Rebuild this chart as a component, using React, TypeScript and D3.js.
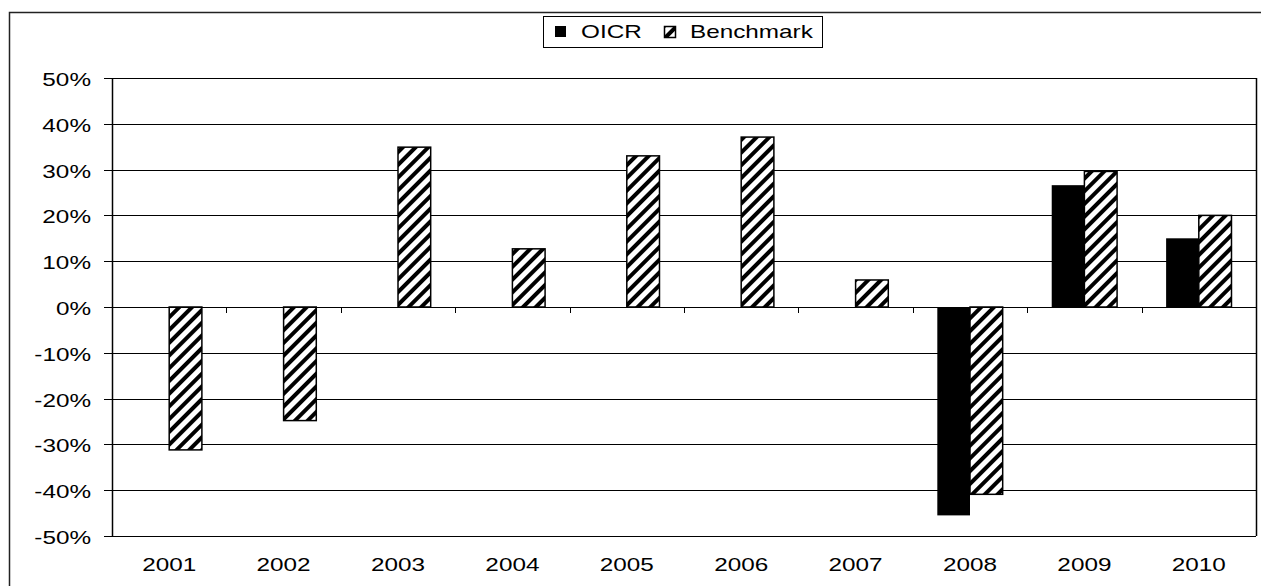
import React from "react";
import * as d3 from "d3";

const years = ["2001", "2002", "2003", "2004", "2005", "2006", "2007", "2008", "2009", "2010"];
const oicr: (number | null)[] = [null, null, null, null, null, null, null, -0.455, 0.266, 0.150];
const benchmark: number[] = [-0.312, -0.248, 0.349, 0.127, 0.330, 0.371, 0.059, -0.409, 0.296, 0.200];
const seriesNames = ["OICR", "Benchmark"];
const yTicks = [0.5, 0.4, 0.3, 0.2, 0.1, 0, -0.1, -0.2, -0.3, -0.4, -0.5];

const W = 1261;
const H = 586;
const plot = { left: 112, right: 1256, top: 78, bottom: 536 };
const SX = 1.35;
const FONT = "'Liberation Sans', Arial, sans-serif";

function SText(props: { x: number; y: number; anchor?: string; children: React.ReactNode }) {
  return (
    <text
      transform={`translate(${props.x},${props.y}) scale(${SX},1)`}
      textAnchor={props.anchor || "start"}
      fontFamily={FONT}
      fontSize={18}
      fill="#000"
    >
      {props.children}
    </text>
  );
}

export default function App() {
  const x0 = d3.scaleBand<string>().domain(years).range([plot.left, plot.right]).paddingInner(0).paddingOuter(0);
  const bw = x0.bandwidth();
  const x1 = d3
    .scaleBand<string>()
    .domain(seriesNames)
    .range([(bw * 0.75) / 3.5, (bw * 2.75) / 3.5])
    .padding(0);
  const barW = x1.bandwidth();
  const y = d3.scaleLinear().domain([-0.5, 0.5]).range([plot.bottom, plot.top]);
  const fmt = (v: number) => d3.format(".0%")(v).replace("\u2212", "-");
  const y0 = y(0);

  return (
    <svg
      width={W}
      height={H}
      style={{ position: "absolute", left: 0, top: 0, background: "#fff" }}
    >
      <defs>
        <pattern
          id="hatch"
          patternUnits="userSpaceOnUse"
          width={9}
          height={9}
          patternTransform="rotate(45)"
        >
          <rect x={0} y={0} width={9} height={9} fill="#fff" />
          <rect x={0} y={0} width={4} height={9} fill="#000" />
        </pattern>
      </defs>
      <rect x={0} y={0} width={W} height={H} fill="#fff" />
      {/* outer chart border */}
      <rect x={9.5} y={12.5} width={W + 20} height={H + 20} fill="none" stroke="#222" strokeWidth={1.5} />

      {/* gridlines */}
      {yTicks.map((t) => (
        <line
          key={"g" + t}
          x1={plot.left}
          x2={plot.right}
          y1={Math.round(y(t)) + 0.5}
          y2={Math.round(y(t)) + 0.5}
          stroke="#000"
          strokeWidth={1}
        />
      ))}
      {/* y ticks and labels */}
      {yTicks.map((t) => (
        <g key={"t" + t}>
          <line
            x1={plot.left - 8}
            x2={plot.left}
            y1={Math.round(y(t)) + 0.5}
            y2={Math.round(y(t)) + 0.5}
            stroke="#000"
          />
          <SText x={91} y={y(t) + 8} anchor="end">
            {fmt(t)}
          </SText>
        </g>
      ))}

      {/* plot area right border */}
      <line x1={plot.right + 0.5} x2={plot.right + 0.5} y1={plot.top} y2={plot.bottom} stroke="#000" strokeWidth={1.5} />

      {/* bars */}
      {years.map((yr, i) => {
        const bx = x0(yr) as number;
        const o = oicr[i];
        const b = benchmark[i];
        return (
          <g key={yr}>
            {o !== null && (
              <rect
                x={bx + (x1("OICR") as number)}
                y={Math.min(y(o), y0)}
                width={barW}
                height={Math.abs(y(o) - y0)}
                fill="#000"
              />
            )}
            <rect
              x={bx + (x1("Benchmark") as number)}
              y={Math.min(y(b), y0)}
              width={barW}
              height={Math.abs(y(b) - y0)}
              fill="url(#hatch)"
              stroke="#000"
              strokeWidth={1.5}
            />
          </g>
        );
      })}

      {/* x axis line at zero and ticks */}
      <line x1={plot.left} x2={plot.right} y1={Math.round(y0) + 0.5} y2={Math.round(y0) + 0.5} stroke="#000" strokeWidth={1} />
      {years.slice(1).map((yr) => (
        <line
          key={"xt" + yr}
          x1={Math.round(x0(yr) as number) + 0.5}
          x2={Math.round(x0(yr) as number) + 0.5}
          y1={y0}
          y2={y0 + 6}
          stroke="#000"
        />
      ))}
      {/* left axis */}
      <line x1={plot.left + 0.5} x2={plot.left + 0.5} y1={plot.top} y2={plot.bottom} stroke="#000" strokeWidth={1.5} />

      {/* x labels */}
      {years.map((yr) => (
        <SText key={"xl" + yr} x={(x0(yr) as number) + bw / 2} y={571} anchor="middle">
          {yr}
        </SText>
      ))}

      {/* legend */}
      <rect x={543.5} y={16.5} width={279} height={31} fill="#fff" stroke="#000" strokeWidth={1} />
      <rect x={555} y={26} width={11} height={11} fill="#000" />
      <SText x={581} y={38}>
        {seriesNames[0]}
      </SText>
      <rect x={664.5} y={26.5} width={11} height={11} fill="url(#hatch)" stroke="#000" strokeWidth={1.5} />
      <SText x={690} y={38}>
        {seriesNames[1]}
      </SText>
    </svg>
  );
}
